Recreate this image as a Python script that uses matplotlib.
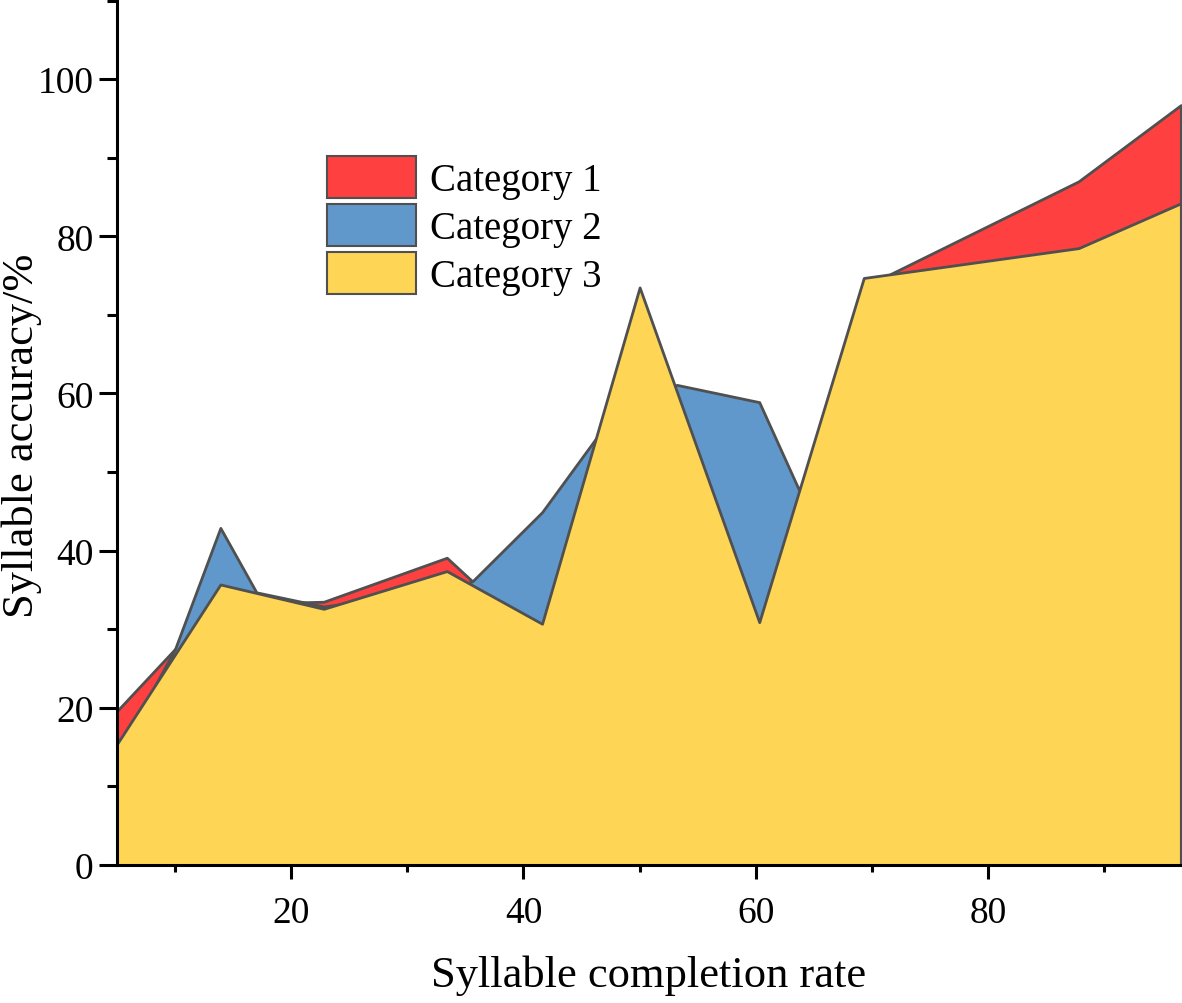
import matplotlib
matplotlib.use("Agg")
import matplotlib.pyplot as plt
from matplotlib.ticker import MultipleLocator

# Category 1 (red, back layer)
x1 = [5, 10, 13.9, 17, 22.8, 33.4, 35.6, 41.6, 46.2, 50, 53.2, 60.3, 63.7, 69.3, 71.6, 87.8, 96.6]
y1 = [19.6, 27.5, 30, 33.3, 33.5, 39.1, 36.1, 40, 50, 60, 58, 45, 44, 72, 75.2, 87.0, 96.7]
# Category 2 (blue, middle layer)
x2 = [5, 10, 13.9, 17, 22.8, 33.4, 35.6, 41.6, 46.2, 50, 53.2, 60.3, 63.7, 69.3, 87.8, 96.6]
y2 = [14, 27.5, 42.9, 34.7, 32.9, 35, 36.1, 44.9, 54.2, 58, 61.1, 58.9, 47.8, 60, 70, 75]
# Category 3 (yellow, front layer)
x3 = [5, 13.9, 22.8, 33.4, 41.6, 50, 60.3, 69.3, 87.8, 96.6]
y3 = [15.4, 35.7, 32.6, 37.4, 30.7, 73.5, 30.9, 74.7, 78.5, 84.2]

labels = ["Category 1", "Category 2", "Category 3"]
colors = ["#FF4040", "#6198CC", "#FFD556"]
edge = "#505050"

plt.rcParams["font.family"] = ["Liberation Serif", "DejaVu Serif"]

fig = plt.figure(figsize=(11.82, 10.04), dpi=100)
ax = fig.add_axes([117 / 1182, 138 / 1004, 1 - 117 / 1182 - 0.001, 866 / 1004])

series = [(x1, y1), (x2, y2), (x3, y3)]
for (xs, ys), lab, c in zip(series, labels, colors):
    ax.fill_between(xs, ys, 0, facecolor=c, edgecolor=edge, linewidth=2.0,
                    label=lab, zorder=2)

ax.set_xlim(5, 96.6)
ax.set_ylim(0, 110.2)

ax.xaxis.set_major_locator(MultipleLocator(20))
ax.xaxis.set_minor_locator(MultipleLocator(10))
ax.yaxis.set_major_locator(MultipleLocator(20))
ax.yaxis.set_minor_locator(MultipleLocator(10))

for s in ["top", "right"]:
    ax.spines[s].set_visible(False)
for s in ["left", "bottom"]:
    ax.spines[s].set_linewidth(2.2)
    ax.spines[s].set_zorder(5)

ax.tick_params(axis="y", which="major", direction="out", length=13, width=2.2, labelsize=27, pad=4)
ax.tick_params(axis="y", which="minor", direction="out", length=7, width=2.2)
ax.tick_params(axis="x", which="major", direction="out", length=10, width=2.2, labelsize=27, pad=12)
ax.tick_params(axis="x", which="minor", direction="out", length=5, width=2.2)

ax.set_xlabel("Syllable completion rate", fontsize=32)
ax.set_ylabel("Syllable accuracy/%", fontsize=32)
ax.xaxis.set_label_coords((649 - 117) / 1065, (866 - 956) / 866)
ax.yaxis.set_label_coords((42 - 117) / 1065, (866 - 436) / 866)

leg = ax.legend(loc="upper left", bbox_to_anchor=((327 - 117) / 1065, (866 - 157) / 866),
                frameon=False, fontsize=28, handlelength=2.3, handleheight=1.3,
                labelspacing=0.12, handletextpad=0.35, borderpad=0, borderaxespad=0)
for h in leg.legend_handles:
    h.set_edgecolor(edge)
    h.set_linewidth(1.5)

fig.savefig("out.png", dpi=100)
